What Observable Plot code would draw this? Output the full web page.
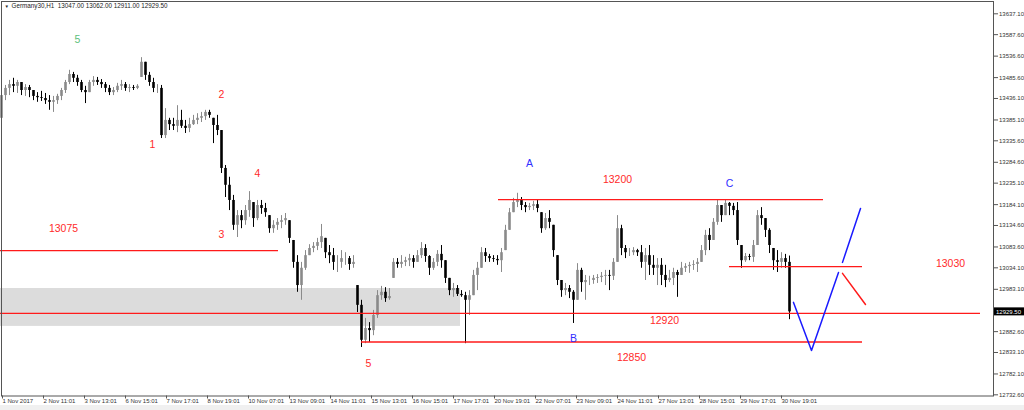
<!DOCTYPE html>
<html><head><meta charset="utf-8">
<script src="https://cdn.jsdelivr.net/npm/d3@7"></script>
<script src="https://cdn.jsdelivr.net/npm/@observablehq/plot@0.6"></script>
<style>
html,body{margin:0;padding:0;}
body{width:1024px;height:410px;overflow:hidden;background:linear-gradient(to bottom,#fff 0,#fff 405px,#f0f0f0 405px);}
svg{display:block;}
</style></head><body><div id="chart"></div>
<script>
// ---- data (H1 bars, one entry per plotted bar) ----
const firstOpen = 13389;
const highs = [
13450,13467,13479,13484,13479,13474,13469,13467,13455,13450,
13453,13448,13443,13441,13446,13460,13479,13503,13498,13491,
13479,13465,13479,13488,13486,13481,13474,13467,13462,13472,
13479,13474,13469,13467,13469,13533,13522,13498,13484,13469,
13467,13412,13389,13389,13419,13408,13384,13389,13396,13400,
13403,13408,13408,13389,13396,13360,13277,13249,13206,13170,
13170,13182,13215,13189,13194,13194,13187,13158,13146,13151,
13158,13163,13146,13099,13063,13047,13075,13089,13094,13104,
13137,13104,13087,13080,13063,13075,13070,13061,13063,12992,
12957,12914,12904,12933,12980,12990,12987,12985,13056,13056,
13063,13059,13066,13063,13075,13094,13089,13063,13056,13075,
13087,13051,13009,12997,12992,12980,12976,12980,13028,13047,
13082,13080,13066,13063,13063,13080,13135,13175,13199,13211,
13201,13189,13187,13192,13194,13165,13163,13170,13135,13063,
13004,12997,12992,12980,13044,13033,13016,13014,13016,13018,
13023,13028,13028,13056,13158,13135,13087,13080,13082,13078,
13087,13080,13087,13063,13056,13056,13040,13028,13033,13028,
13047,13044,13047,13051,13056,13087,13123,13127,13151,13196,
13182,13196,13189,13187,13189,13087,13068,13066,13099,13170,
13177,13151,13127,13080,13075,13070,13066,13062];
const lows = [
13384,13431,13443,13450,13448,13443,13441,13438,13431,13427,
13429,13422,13408,13403,13422,13431,13448,13469,13474,13465,
13450,13424,13450,13465,13467,13460,13450,13443,13443,13450,
13455,13453,13450,13455,13457,13486,13479,13465,13450,13448,
13341,13341,13360,13360,13355,13365,13353,13355,13372,13374,
13379,13384,13389,13329,13348,13258,13201,13170,13123,13106,
13127,13135,13154,13130,13146,13161,13154,13116,13116,13123,
13127,13135,13092,13033,12976,12957,13028,13063,13070,13075,
13080,13056,13044,13028,13023,13033,13040,13028,13033,12928,
12845,12854,12857,12873,12914,12957,12952,12957,13009,13033,
13033,13037,13037,13033,13047,13056,13047,13016,13028,13037,
13033,12997,12968,12964,12966,12964,12854,12921,12968,12980,
13033,13047,13047,13047,13040,13023,13075,13123,13165,13177,
13170,13165,13170,13170,13165,13116,13123,13127,13059,12992,
12964,12968,12961,12902,12957,12976,12957,12992,12995,12997,
12999,12992,12980,13004,13047,13063,13056,13061,13063,13061,
13033,13004,13016,13016,12992,12992,12987,12999,12992,12964,
13016,13023,13021,13028,13023,13047,13063,13075,13099,13135,
13142,13158,13158,13158,13087,13033,13047,13051,13047,13087,
13135,13106,13068,13028,13023,13033,13033,12911];
const closes = [
13443,13460,13469,13465,13474,13455,13462,13455,13441,13438,
13436,13431,13427,13431,13441,13455,13474,13493,13484,13474,
13455,13450,13474,13479,13474,13469,13460,13450,13455,13465,
13469,13460,13462,13460,13465,13522,13491,13474,13460,13460,
13348,13384,13374,13370,13384,13370,13365,13374,13384,13389,
13393,13403,13396,13372,13360,13270,13230,13194,13135,13158,
13146,13170,13194,13151,13182,13175,13165,13127,13135,13142,
13146,13151,13104,13047,12992,13033,13063,13080,13085,13094,
13108,13070,13063,13047,13047,13056,13056,13042,13047,12945,
12862,12890,12885,12921,12968,12976,12961,12966,13047,13042,
13047,13051,13056,13047,13063,13080,13061,13033,13047,13066,
13051,13009,12980,12985,12971,12968,12957,12968,13016,13033,
13070,13061,13056,13054,13051,13070,13123,13165,13189,13196,
13182,13177,13180,13184,13175,13127,13151,13142,13075,13004,
12980,12985,12976,12957,13028,12999,13004,13004,13009,13011,
13014,13016,13014,13047,13127,13080,13070,13070,13075,13070,
13047,13063,13040,13033,13040,13016,13004,13009,13023,13016,
13033,13037,13040,13042,13047,13075,13111,13099,13142,13182,
13158,13187,13180,13170,13099,13051,13061,13059,13087,13158,
13151,13123,13087,13051,13047,13056,13047,12929.5];

const xTickLabels = ["1 Nov 2017","2 Nov 11:01","3 Nov 13:01","6 Nov 15:01","7 Nov 17:01","8 Nov 19:01","10 Nov 07:01","13 Nov 09:01","14 Nov 11:01","15 Nov 13:01","16 Nov 15:01","17 Nov 17:01","20 Nov 19:01","22 Nov 07:01","23 Nov 09:01","24 Nov 11:01","27 Nov 13:01","28 Nov 15:01","29 Nov 17:01","30 Nov 19:01"];
const barsPerTick = 10.25;
const yTickValues = [13637.1,13587.6,13536.6,13485.6,13436.1,13385.1,13335.6,13284.6,13235.1,13184.1,13134.6,13083.6,13034.1,12983.1,12882.6,12833.1,12782.1,12732.6];
const lastPrice = 12929.5;
const headerText = "Germany30,H1  13047.00 13062.00 12911.00 12929.50";

// horizontal levels
const levelPrice = [13075, 13196, 13037, 12926, 12858];
const levelStart = [-0.25, 124.25, 182, -0.25, 90];
const levelEnd   = [69.25, 205.5, 215.25, 244.75, 215.25];

// grey zone
const zoneBars = [-0.25, 114.75];
const zonePrices = [12895, 12985];

// projected paths
const blueDownUpBar = [198, 202.5, 209.25];
const blueDownUpPrice = [12952, 12838, 13023];
const blueUpBar = [210.25, 214.75];
const blueUpPrice = [13047, 13175];
const redDownBar = [210.25, 216];
const redDownPrice = [13021, 12947];

// annotations
const noteText  = ["5","2","1","4","3","13075","5","A","13200","12920","B","12850","C","13030"];
const noteBar   = [19, 55, 37.75, 64, 55, 15.5, 91.75, 132, 154, 165.75, 143, 157.5, 182, 237.25];
const notePrice = [13576, 13446, 13327, 13258, 13113, 13127, 12807, 13282, 13244, 12909, 12866, 12821, 13234, 13044];
const noteColor = ["#5cbf7c","#ff2a2a","#ff2a2a","#ff2a2a","#ff2a2a","#ff2a2a","#ff2a2a","#3030ff","#ff2a2a","#ff2a2a","#3030ff","#ff2a2a","#3030ff","#ff2a2a"];

// ---- build tables ----
const bars = closes.map((c, i) => {
  const prev = i === 0 ? firstOpen : closes[i - 1];
  const open = Math.min(highs[i], Math.max(lows[i], prev));
  return {i, open, high: highs[i], low: lows[i], close: c, up: c >= open};
});
const levels = levelPrice.map((p, k) => ({p, x1: levelStart[k], x2: levelEnd[k]}));
const notes = noteText.map((t, k) => ({t, x: noteBar[k], y: notePrice[k], c: noteColor[k]}));
const pts = (xs, ys) => xs.map((x, k) => ({x, y: ys[k]}));
const tickPos = xTickLabels.map((_, k) => k * barsPerTick);

const chart = Plot.plot({
  width: 1024, height: 410,
  marginLeft: 1, marginRight: 31, marginTop: 1, marginBottom: 14.5,
  style: {fontFamily: "Liberation Sans, Arial, sans-serif", background: "transparent", overflow: "visible"},
  x: {type: "linear", domain: [0, 248]},
  y: {domain: [12729.8, 13666.3]},
  marks: [
    Plot.rect([0], {x1: zoneBars[0], x2: zoneBars[1], y1: zonePrices[0], y2: zonePrices[1], fill: "#dcdcdc"}),
    Plot.ruleX(bars, {x: "i", y1: "low", y2: "high", stroke: d => d.up ? "#8a8a8a" : "#000", strokeWidth: 1}),
    Plot.ruleX(bars, {x: "i", y1: "open", y2: "close", stroke: d => d.up ? "#8a8a8a" : "#000", strokeWidth: 2.6}),
    Plot.ruleY(levels, {y: "p", x1: "x1", x2: "x2", stroke: "#ff1a1a", strokeWidth: 1.4}),
    Plot.line(pts(blueDownUpBar, blueDownUpPrice), {x: "x", y: "y", stroke: "#1a1aff", strokeWidth: 1.5}),
    Plot.line(pts(blueUpBar, blueUpPrice), {x: "x", y: "y", stroke: "#1a1aff", strokeWidth: 1.5}),
    Plot.line(pts(redDownBar, redDownPrice), {x: "x", y: "y", stroke: "#ff1a1a", strokeWidth: 1.5}),
    Plot.text(notes, {x: "x", y: "y", text: "t", fill: "c", fontSize: 10.5}),
    Plot.frame({stroke: "#555"}),
    Plot.axisY(yTickValues, {anchor: "right", tickFormat: d => d.toFixed(2), tickSize: 4, tickPadding: 1.5, fontSize: 6, stroke: "#555", fill: "#333"}),
    Plot.axisX(tickPos, {anchor: "bottom", tickFormat: d => xTickLabels[Math.round(d / barsPerTick)], tickSize: 3, tickPadding: 0, textAnchor: "start", dx: 1, fontSize: 6, stroke: "#555", fill: "#333"}),
    Plot.text([headerText], {frameAnchor: "top-left", dx: 10, dy: 2, lineAnchor: "top", textAnchor: "start", fontSize: 6.3, fill: "#222"}),
    Plot.text(["▼"], {frameAnchor: "top-left", dx: 3, dy: 3, lineAnchor: "top", textAnchor: "start", fontSize: 4.5, fill: "#222"})
  ]
});

// current price marker, positioned through the y scale
const ns = "http://www.w3.org/2000/svg";
const yy = chart.scale("y").apply(lastPrice);
const g = document.createElementNS(ns, "g");
const r = document.createElementNS(ns, "rect");
r.setAttribute("x", 994); r.setAttribute("y", yy - 4); r.setAttribute("width", 30); r.setAttribute("height", 8); r.setAttribute("fill", "#000");
const t = document.createElementNS(ns, "text");
t.setAttribute("x", 996); t.setAttribute("y", yy + 2.2); t.setAttribute("fill", "#fff"); t.setAttribute("font-size", "6");
t.setAttribute("text-anchor", "start");
t.setAttribute("font-family", "Liberation Sans, Arial, sans-serif");
t.textContent = lastPrice.toFixed(2);
g.appendChild(r); g.appendChild(t);
chart.appendChild(g);
document.getElementById("chart").appendChild(chart);
</script></body></html>
